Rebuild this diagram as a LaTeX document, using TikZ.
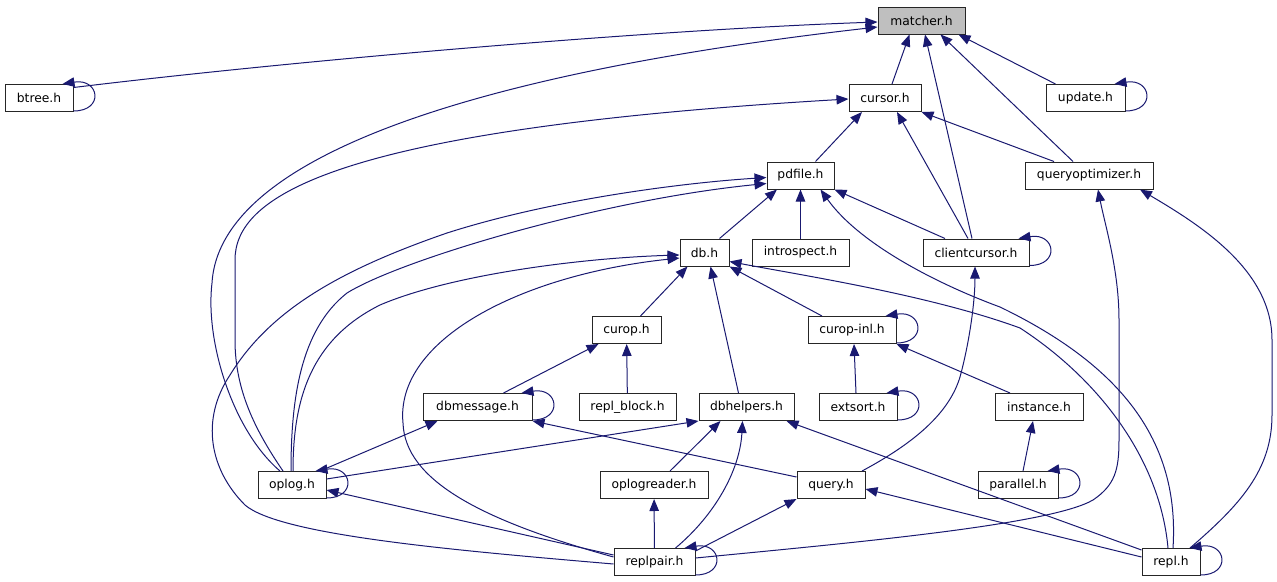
\documentclass[tikz,border=0pt]{standalone}
\usepackage{fontspec}
\setmainfont{DejaVu Sans}
\usepackage{xcolor}
\definecolor{edgeblue}{RGB}{25,25,112}
\definecolor{gr}{gray}{0.75}
\usetikzlibrary{arrows.meta, calc}

\begin{document}
\begin{tikzpicture}[x=1pt, y=-1pt,
  file/.style={draw=black!85, line width=1pt, fill=white, minimum height=27pt, inner sep=0pt, font=\fontsize{12.3}{14}\selectfont},
  dep/.style={draw=edgeblue, line width=1pt, -{Triangle[length=12pt,width=9.5pt]}}]
\useasboundingbox (0,0) rectangle (1277,581);
\node[file, fill=gr, minimum width=87] (matcher) at (921.5,20.5) {matcher.h};
\foreach \name/\x/\y/\w/\txt in {btree/39/98/68/btree.h, cursor/885/98/72/cursor.h, update/1085.5/98/79/update.h,
  pdfile/800.5/175.5/67/pdfile.h, queryoptimizer/1089/175.5/128/queryoptimizer.h,
  db/704.5/252.5/49/db.h, introspect/800.5/252.5/97/introspect.h, clientcursor/976/252.5/106/clientcursor.h,
  curop/626.5/330/69/curop.h, curopinl/852/330/88/curop-inl.h,
  dbmessage/477.5/407/109/dbmessage.h, replblock/627.5/407/97/repl\_block.h, dbhelpers/746.5/407/95/dbhelpers.h,
  extsort/858/407/78/extsort.h, instance/1039/407/88/instance.h,
  oplog/292/485/68/oplog.h, oplogreader/654/485/108/oplogreader.h, query/831/485/68/query.h, parallel/1018/485/80/parallel.h,
  replpair/654.5/562/81/replpair.h, repl/1171/562/58/repl.h}{
\node[file, minimum width=\w] (\name) at (\x,\y) {\txt};
}
% into matcher.h
\draw[dep] ([yshift=-3.5]btree.north east) .. controls (300,60) and (650,30) .. ([yshift=-1.5]matcher.west);
\draw[dep] ([xshift=-12]oplog.north) .. controls (232,430) and (205,340) .. (212,283) .. controls (220,150) and (500,70) .. ([yshift=-6.5]matcher.west);
\draw[dep] ([xshift=7]cursor.north) -- ([xshift=-12]matcher.south);
\draw[dep] ([xshift=-4]clientcursor.north) -- ([xshift=3.5]matcher.south);
\draw[dep] ([xshift=-16]queryoptimizer.north) -- ([xshift=19]matcher.south);
\draw[dep] ([xshift=-30]update.north) -- ([xshift=37]matcher.south);
% into cursor.h
\draw[dep] ([xshift=-9]oplog.north) .. controls (255,430) and (235,390) .. (235,340) -- (235,260) .. controls (235,200) and (320,130) .. ([yshift=-1]cursor.west);
\draw[dep] ([xshift=15]pdfile.north) -- ([xshift=-23]cursor.south);
\draw[dep] ([xshift=-8]clientcursor.north) -- ([xshift=12]cursor.south);
\draw[dep] ([xshift=-35]queryoptimizer.north) -- (cursor.south east);
% into pdfile.h
\draw[dep] ([xshift=-1]oplog.north) .. controls (291,400) and (300,330) .. (347,293) .. controls (400,260) and (600,200) .. ([yshift=-8]pdfile.west);
\draw[dep] ([yshift=-2]replpair.west) .. controls (450,550) and (280,535) .. (245,505) .. controls (210,470) and (200,420) .. (230,375) .. controls (270,310) and (340,270) .. (447,233) .. controls (550,200) and (680,183) .. ([yshift=-2]pdfile.west);
\draw[dep] ([xshift=15]db.north) -- ([xshift=-23.5]pdfile.south);
\draw[dep] (introspect) -- (pdfile);
\draw[dep] ([xshift=-31]clientcursor.north) -- (pdfile.south east);
\draw[dep] ([xshift=2]repl.north) .. controls (1180,440) and (1120,365) .. (1000,307) .. controls (940,285) and (860,245) .. ([xshift=20]pdfile.south);
% into db.h
\draw[dep] ([xshift=1]oplog.north) .. controls (293,400) and (310,340) .. (380,305) .. controls (450,275) and (580,258) .. ([yshift=-2.5]db.west);
\draw[dep] ([yshift=5]replpair.west) .. controls (480,520) and (405,480) .. (403,423) .. controls (395,340) and (520,275) .. ([yshift=-5.5]db.west);
\draw[dep] ([xshift=14]curop.north) -- ([xshift=-17]db.south);
\draw[dep] ([xshift=-8]dbhelpers.north) -- ([xshift=6]db.south);
\draw[dep] ([xshift=-30]curopinl.north) -- (db.south east);
\draw[dep] ([xshift=-3]repl.north) .. controls (1160,460) and (1100,380) .. (1020,328) .. controls (930,295) and (800,275) .. ([yshift=-9]db.east);
% lower levels
\draw[dep] ([xshift=26]dbmessage.north) -- ([xshift=-28]curop.south);
\draw[dep] (replblock) -- (curop);
\draw[dep] ([xshift=-2]extsort.north) -- ([xshift=2]curopinl.south);
\draw[dep] ([xshift=-29]instance.north) -- (curopinl.south east);
\draw[dep] ([xshift=5]parallel.north) -- ([xshift=-6]instance.south);
\draw[dep] ([xshift=28]oplog.north) -- ([xshift=-40]dbmessage.south);
\draw[dep] ([yshift=8]query.west) -- (dbmessage.south east);
\draw[dep] ([yshift=6]oplog.east) -- (dbhelpers.south west);
\draw[dep] ([xshift=16]oplogreader.north) -- ([xshift=-26]dbhelpers.south);
\draw[dep] ([xshift=21]replpair.north) .. controls (715,515) and (740,470) .. ([xshift=-4]dbhelpers.south);
\draw[dep] ([yshift=-2]repl.north west) -- ([xshift=40]dbhelpers.south);
\draw[dep] ([yshift=7]replpair.west) -- ([yshift=-5]oplog.east);
\draw[dep] ([yshift=5]repl.west) -- ([yshift=-4]query.east);
\draw[dep] ([yshift=-3]replpair.north east) -- (query.south west);
\draw[dep] (replpair) -- (oplogreader);
\draw[dep] ([yshift=4]replpair.east) .. controls (850,543) and (1050,525) .. (1093,500) .. controls (1115,485) and (1119,470) .. (1119,440) -- (1119,320) .. controls (1119,270) and (1105,225) .. ([xshift=9]queryoptimizer.south);
\draw[dep] ([xshift=19]repl.north) .. controls (1240,505) and (1272,470) .. (1272,415) -- (1272,340) .. controls (1272,270) and (1200,225) .. ([xshift=51]queryoptimizer.south);
\draw[dep] ([xshift=31]query.north) .. controls (920,440) and (950,410) .. (960,377) .. controls (970,340) and (975,300) .. ([xshift=-1]clientcursor.south);
% self loops
\foreach \name in {btree, update, clientcursor, curopinl, dbmessage, extsort, oplog, parallel, replpair, repl}{
\draw[dep] ([yshift=1]\name.south east) .. controls +(31,0) and +(37,-6) .. ([xshift=-11]\name.north east);
}
\end{tikzpicture}
\end{document}
